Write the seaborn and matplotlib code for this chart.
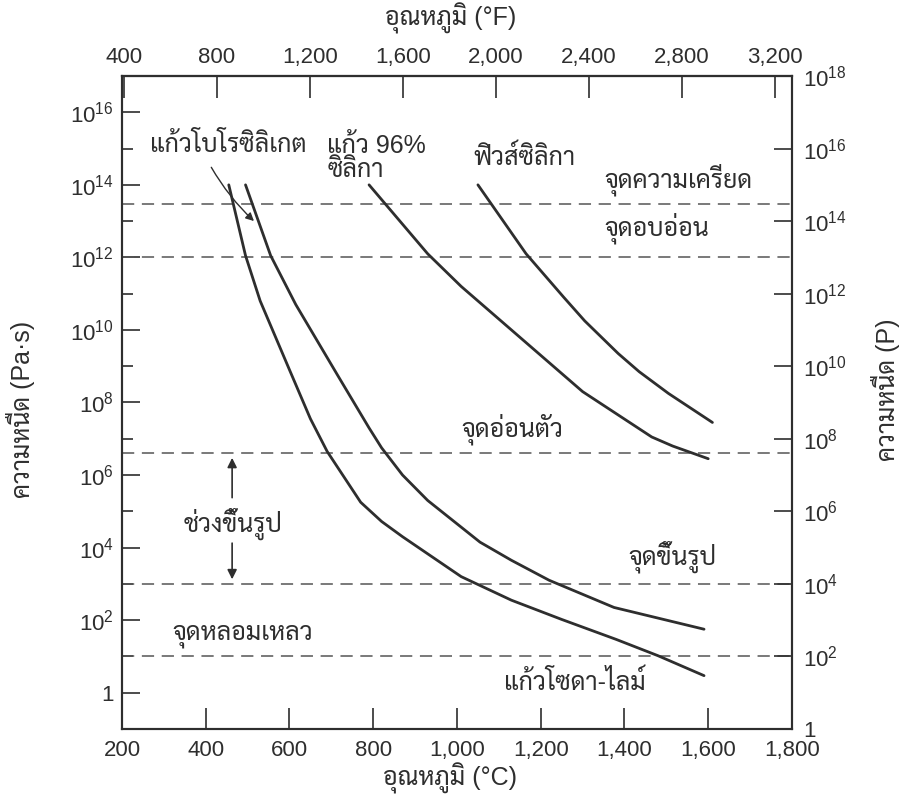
import numpy as np
import pandas as pd
import matplotlib
matplotlib.use("Agg")
import matplotlib.pyplot as plt
from matplotlib.ticker import FixedLocator, FuncFormatter, NullFormatter
import seaborn as sns

# temperature (C) and log10 viscosity (Pa.s)
soda_T = [455, 495, 530, 600, 650, 690, 770, 820, 870, 1010, 1130, 1250, 1380, 1480, 1590]
soda_log = [14.0, 12.05, 10.8, 8.9, 7.55, 6.65, 5.25, 4.72, 4.3, 3.2, 2.55, 2.02, 1.47, 1.02, 0.47]
boro_T = [495, 555, 615, 715, 790, 820, 870, 930, 1055, 1130, 1220, 1375, 1590]
boro_log = [14.0, 12.05, 10.7, 8.75, 7.3, 6.75, 6.0, 5.3, 4.15, 3.65, 3.1, 2.35, 1.75]
silica96_T = [790, 930, 1010, 1150, 1300, 1465, 1515, 1600]
silica96_log = [14.0, 12.1, 11.2, 9.8, 8.3, 7.05, 6.8, 6.45]
fused_T = [1050, 1165, 1255, 1305, 1385, 1435, 1505, 1610]
fused_log = [14.0, 12.1, 10.9, 10.25, 9.35, 8.85, 8.25, 7.45]

# reference viscosity points (Pa.s)
point_names = ["จุดความเครียด", "จุดอบอ่อน", "จุดอ่อนตัว", "จุดขึ้นรูป", "จุดหลอมเหลว"]
point_values = [3e13, 1e12, 4e6, 1e3, 1e1]

c_ticks = [200, 400, 600, 800, 1000, 1200, 1400, 1600, 1800]
f_ticks = [400, 800, 1200, 1600, 2000, 2400, 2800, 3200]

df = pd.concat([
    pd.DataFrame({"T": soda_T, "eta": 10.0 ** np.array(soda_log), "glass": "soda"}),
    pd.DataFrame({"T": boro_T, "eta": 10.0 ** np.array(boro_log), "glass": "boro"}),
    pd.DataFrame({"T": silica96_T, "eta": 10.0 ** np.array(silica96_log), "glass": "96"}),
    pd.DataFrame({"T": fused_T, "eta": 10.0 ** np.array(fused_log), "glass": "fused"}),
])

sns.set_theme(style="ticks")
plt.rcParams['font.family'] = ['Liberation Sans', 'Sarabun', 'DejaVu Sans']
plt.rcParams['mathtext.default'] = 'regular'

ink = '#2e2e2e'
tfs = 18   # thai text
nfs = 16   # tick numbers

fig = plt.figure(figsize=(9.01, 7.96), dpi=100)
ax = fig.add_axes([0.1354, 0.0842, 0.7436, 0.8203])

sns.lineplot(data=df, x="T", y="eta", hue="glass", units="glass", estimator=None,
             sort=False, palette=[ink] * 4, legend=False, linewidth=2.0, ax=ax)

for v in point_values:
    ax.axhline(v, color='#555555', lw=1.1, dashes=(8, 5), zorder=1)

ax.set_xlim(200, 1800)
ax.set_yscale('log')
ax.set_ylim(1e-1, 1e17)


def pow_label(v, p):
    return "1" if v == 1 else f"$10^{{{int(round(np.log10(v)))}}}$"


# bottom axis
ax.xaxis.set_major_locator(FixedLocator(c_ticks))
ax.xaxis.set_major_formatter(FuncFormatter(lambda v, p: f"{v:,.0f}"))
ax.set_xlabel("อุณหภูมิ (°C)", fontsize=tfs, color=ink, va='center')
ax.xaxis.set_label_coords(0.49, -0.076)

# left axis (Pa.s)
ax.yaxis.set_major_locator(FixedLocator([10.0 ** k for k in range(0, 17, 2)]))
ax.yaxis.set_minor_locator(FixedLocator([10.0 ** k for k in range(1, 17, 2)]))
ax.yaxis.set_major_formatter(FuncFormatter(pow_label))
ax.yaxis.set_minor_formatter(NullFormatter())
ax.set_ylabel("ความหนืด (Pa·s)", fontsize=tfs, color=ink, va='center')
ax.yaxis.set_label_coords(-0.152, 0.49)

ax.tick_params(axis='x', which='major', direction='in', length=15, width=1.2, colors=ink,
               labelsize=nfs, pad=8)
ax.tick_params(axis='y', which='major', direction='in', length=13, width=1.2, colors=ink,
               labelsize=nfs, pad=6)
ax.tick_params(axis='y', which='minor', direction='in', length=8, width=1.2, colors=ink)

# right axis (poise)
ax2 = ax.twinx()
ax2.set_yscale('log')
ax2.set_ylim(1, 1e18)
ax2.yaxis.set_major_locator(FixedLocator([10.0 ** k for k in range(0, 19, 2)]))
ax2.yaxis.set_minor_locator(FixedLocator([]))
ax2.yaxis.set_major_formatter(FuncFormatter(pow_label))
ax2.tick_params(axis='y', which='major', direction='in', length=13, width=1.2, colors=ink,
                labelsize=nfs, pad=8)
ax2.set_ylabel("ความหนืด (P)", fontsize=tfs, color=ink, rotation=90, va='center')
ax2.yaxis.set_label_coords(1.14, 0.52)

# top axis (F)
secax = ax.secondary_xaxis('top', functions=(lambda c: c * 9 / 5 + 32, lambda f: (f - 32) * 5 / 9))
secax.xaxis.set_major_locator(FixedLocator(f_ticks))
secax.xaxis.set_major_formatter(FuncFormatter(lambda v, p: f"{v:,.0f}"))
secax.tick_params(axis='x', direction='in', length=16, width=1.2, colors=ink, labelsize=nfs, pad=6)
secax.set_xlabel("อุณหภูมิ (°F)", fontsize=tfs, color=ink, va='center')
secax.xaxis.set_label_coords(0.49, 1.089, transform=ax.transAxes)

for a in (ax, ax2):
    for s in a.spines.values():
        s.set_color(ink)
        s.set_linewidth(1.5)
secax.spines['top'].set_color(ink)
secax.spines['top'].set_linewidth(1.5)

# labels
ax.text(267, 10 ** 15.1, "แก้วโบโรซิลิเกต", fontsize=tfs, color=ink, va='center')
ax.text(690, 10 ** 14.75, "แก้ว 96%\nซิลิกา", fontsize=tfs, color=ink, va='center', linespacing=1.0)
ax.text(1040, 10 ** 14.75, "ฟิวส์ซิลิกา", fontsize=tfs, color=ink, va='center')
ax.text(1352, 10 ** 14.15, point_names[0], fontsize=tfs, color=ink, va='center')
ax.text(1352, 10 ** 12.8, point_names[1], fontsize=tfs, color=ink, va='center')
ax.text(1010, 10 ** 7.25, point_names[2], fontsize=tfs, color=ink, va='center')
ax.text(1410, 10 ** 3.75, point_names[3], fontsize=tfs, color=ink, va='center')
ax.text(320, 10 ** 1.55, point_names[4], fontsize=tfs, color=ink, va='center')
ax.text(1112, 10 ** 0.28, "แก้วโซดา-ไลม์", fontsize=tfs, color=ink, va='center')
ax.text(346, 10 ** 4.65, "ช่วงขึ้นรูป", fontsize=tfs, color=ink, va='center')

arrow = dict(arrowstyle='-|>', color=ink, lw=1.2, mutation_scale=14)
ax.annotate("", xy=(463, 10 ** 6.55), xytext=(463, 10 ** 5.3), arrowprops=arrow)
ax.annotate("", xy=(463, 10 ** 3.05), xytext=(463, 10 ** 4.2), arrowprops=arrow)
ax.annotate("", xy=(520, 10 ** 12.95), xytext=(410, 10 ** 14.55),
            arrowprops=dict(arrowstyle='-|>', color=ink, lw=1.0, mutation_scale=12,
                            connectionstyle="arc3,rad=0.08"))

fig.savefig("out.png", dpi=100)
